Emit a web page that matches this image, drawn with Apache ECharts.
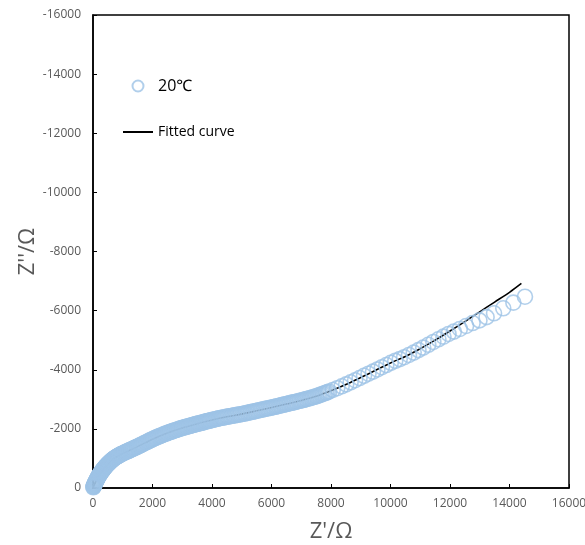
<!DOCTYPE html>
<html>
<head>
<meta charset="utf-8">
<script src="https://cdn.jsdelivr.net/npm/echarts@6/dist/echarts.min.js"></script>
<style>
html,body{margin:0;padding:0;background:#fff;}
#chart{width:585px;height:545px;}
</style>
</head>
<body>
<div id="chart"></div>
<script>
// Measured impedance data at 20℃ : Z' (real part) and Z'' (imaginary part)
var measuredZre = [10,25,40,55,70,90,110,130,150,175,200,225,250,280,310,340,370,400,435,470,505,540,580,620,660,700,745,790,835,880,930,980,
  1030,1090,1150,1210,1270,1340,1410,1480,1550,1620,1700,1780,1860,1940,2020,2100,2180,2260,2340,2420,2500,2580,2660,2740,2820,2900,2980,3060,3140,3220,3300,3380,3460,3540,3620,3700,3780,3860,3940,
  4030,4130,4230,4330,4430,4530,4640,4750,4860,4970,5080,5190,5300,5410,5520,5630,5740,5850,5960,6070,6180,6290,6400,6510,6620,6730,6840,6950,7060,7170,7280,7390,7500,7610,7720,7830,7940,
  8060,8210,8360,8510,8660,8810,8960,9110,9260,9410,9560,9710,9860,10010,10160,10310,10460,10620,10780,10940,11100,11270,11440,11610,11780,11950,
  12130,12330,12540,12760,12990,13230,13480,13790,14130,14520];
var measuredZim = [-25,-60,-95,-130,-165,-210,-250,-290,-330,-375,-420,-460,-495,-540,-585,-625,-660,-700,-740,-780,-815,-850,-890,-925,-960,-990,-1025,-1055,-1080,-1105,-1135,-1160,
  -1185,-1210,-1240,-1265,-1295,-1325,-1360,-1390,-1425,-1460,-1500,-1540,-1580,-1620,-1660,-1695,-1730,-1765,-1795,-1830,-1860,-1890,-1915,-1945,-1970,-2000,-2025,-2045,-2070,-2090,-2115,-2135,-2160,-2180,-2200,-2220,-2245,-2265,-2285,
  -2305,-2330,-2355,-2375,-2395,-2415,-2435,-2455,-2475,-2495,-2515,-2540,-2565,-2590,-2615,-2640,-2665,-2690,-2710,-2735,-2760,-2790,-2815,-2840,-2870,-2895,-2920,-2950,-2975,-3005,-3035,-3070,-3100,-3140,-3180,-3220,-3265,
  -3315,-3375,-3440,-3505,-3575,-3645,-3720,-3795,-3865,-3935,-4010,-4085,-4160,-4235,-4300,-4360,-4425,-4500,-4580,-4665,-4750,-4845,-4940,-5030,-5120,-5210,
  -5290,-5380,-5480,-5580,-5670,-5780,-5910,-6080,-6270,-6470];
// Further measured points in the dense low/mid-frequency region
var measuredZre2 = [18,32,48,62,80,100,120,140,162,188,212,238,265,295,325,355,385,418,452,488,522,560,600,640,680,722,768,812,858,905,955,
  1060,1120,1180,1240,1305,1375,1445,1515,1585,1660,1740,1820,1900,1980,2060,2140,2220,2300,2380,2460,2540,2620,2700,2780,2860,2940,3020,3100,3180,3260,3340,3420,3500,3580,3660,3740,3820,3900,3980,
  4080,4180,4280,4380,4480,4585,4695,4805,4915,5025,5135,5245,5355,5465,5575,5685,5795,5905,6015,6125,6235,6345,6455,6565,6675,6785,6895,7005,7115,7225,7335,7445,7555,7665,7775,7885];
var measuredZim2 = [-42,-78,-112,-148,-188,-230,-270,-310,-352,-398,-440,-478,-518,-562,-605,-642,-680,-720,-760,-798,-832,-870,-908,-942,-975,-1008,-1040,-1068,-1092,-1120,-1148,
  -1200,-1228,-1250,-1282,-1310,-1345,-1378,-1405,-1445,-1480,-1522,-1560,-1602,-1638,-1680,-1712,-1750,-1778,-1815,-1842,-1878,-1900,-1932,-1955,-1988,-2010,-2038,-2058,-2082,-2102,-2128,-2146,-2172,-2188,-2212,-2230,-2258,-2272,-2296,
  -2318,-2342,-2366,-2384,-2406,-2424,-2446,-2464,-2486,-2503,-2528,-2552,-2578,-2602,-2628,-2652,-2678,-2698,-2724,-2746,-2776,-2802,-2828,-2856,-2882,-2906,-2936,-2962,-2990,-3020,-3052,-3086,-3120,-3160,-3200,-3242];
// Fitted curve
var fitZre = [0,50,100,150,200,300,400,500,600,700,800,1000,1200,1500,2000,2500,3000,3500,4000,4500,5000,5500,6000,6500,7000,7500,8000,8500,9000,9500,10000,10500,11000,11500,12000,12500,13000,13500,14000,14400];
var fitZim = [0,-120,-230,-330,-420,-570,-700,-810,-910,-990,-1060,-1170,-1260,-1400,-1650,-1860,-2030,-2170,-2300,-2410,-2500,-2610,-2720,-2840,-2960,-3100,-3290,-3500,-3740,-3980,-4230,-4450,-4710,-5000,-5310,-5630,-5960,-6290,-6620,-6920];
var xTicks = [0,2000,4000,6000,8000,10000,12000,14000,16000];
var yTicks = [0,-2000,-4000,-6000,-8000,-10000,-12000,-14000,-16000];

var measured = measuredZre.map(function(x,i){return [x, measuredZim[i]];})
  .concat(measuredZre2.map(function(x,i){return [x, measuredZim2[i]];}));
var fitted = fitZre.map(function(x,i){return [x, fitZim[i]];});

var chart = echarts.init(document.getElementById('chart'), null, {renderer:'canvas'});
var font = '"Open Sans", "Noto Sans", sans-serif';
chart.setOption({
  animation:false,
  backgroundColor:'#fff',
  textStyle:{fontFamily:font},
  grid:{left:93,right:16,top:15,bottom:57,containLabel:false,outerBoundsMode:'none',show:true,borderColor:'#000',borderWidth:1.5,backgroundColor:'transparent'},
  legend:{
    orient:'vertical',left:123,top:78,padding:0,itemWidth:30,itemHeight:11,itemGap:31,
    data:[
      {name:'20℃',textStyle:{fontSize:16,color:'#000'}},
      {name:'Fitted curve',icon:'path://M0,0L30,0L30,2L0,2Z',textStyle:{fontSize:14,color:'#000'}}
    ],
    textStyle:{fontFamily:font,color:'#000'}
  },
  xAxis:{
    type:'value',min:xTicks[0],max:xTicks[xTicks.length-1],interval:2000,
    name:"Z'/Ω",nameLocation:'middle',nameGap:33,nameMoveOverlap:false,
    nameTextStyle:{fontSize:22,color:'#595959',fontFamily:font},
    axisLine:{show:true,lineStyle:{color:'#000',width:1.5}},
    axisTick:{show:true,inside:true,length:4,lineStyle:{color:'#000',width:1}},
    axisLabel:{fontSize:12,color:'#595959',margin:10,fontFamily:font,formatter:function(v){return String(v);}},
    splitLine:{show:false}
  },
  yAxis:{
    type:'value',min:yTicks[yTicks.length-1],max:yTicks[0],interval:2000,inverse:true,
    name:"Z''/Ω",nameLocation:'middle',nameGap:54,nameRotate:90,nameMoveOverlap:false,
    nameTextStyle:{fontSize:22,color:'#595959',fontFamily:font},
    axisLine:{show:true,lineStyle:{color:'#000',width:1.5}},
    axisTick:{show:true,inside:true,length:4,lineStyle:{color:'#000',width:1}},
    axisLabel:{fontSize:12,color:'#595959',margin:12,fontFamily:font,formatter:function(v){return String(v);}},
    splitLine:{show:false}
  },
  series:[
    {
      name:'Fitted curve',type:'line',data:fitted,showSymbol:false,symbol:'none',smooth:0.3,
      lineStyle:{color:'#000',width:1.6},itemStyle:{color:'#000'},z:2
    },
    {
      name:'20℃',type:'scatter',data:measured,symbol:'circle',symbolSize:15,
      itemStyle:{color:'rgba(255,255,255,0)',borderColor:'#9DC3E6',borderWidth:1.6},z:3
    }
  ]
});
</script>
</body>
</html>
